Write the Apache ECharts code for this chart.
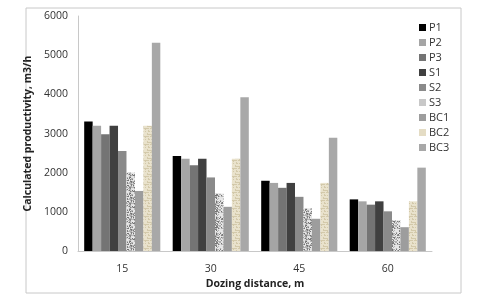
<!DOCTYPE html>
<html>
<head>
<meta charset="utf-8">
<script src="https://cdn.jsdelivr.net/npm/echarts@6/dist/echarts.min.js"></script>
<style>
  html, body { margin: 0; padding: 0; background: #fff; }
  #chart { width: 485px; height: 295px; }
</style>
</head>
<body>
<div id="chart"></div>
<script>
const categories = ["15", "30", "45", "60"]
const seriesNames = ["P1", "P2", "P3", "S1", "S2", "S3", "BC1", "BC2", "BC3"]
const P1 = [3310, 2430, 1795, 1320]
const P2 = [3200, 2360, 1740, 1270]
const P3 = [2985, 2190, 1615, 1185]
const S1 = [3200, 2360, 1740, 1270]
const S2 = [2555, 1880, 1385, 1015]
const S3 = [2005, 1465, 1090, 790]
const BC1 = [1535, 1130, 825, 610]
const BC2 = [3200, 2360, 1740, 1270]
const BC3 = [5320, 3925, 2895, 2130]
const yTicks = [0, 1000, 2000, 3000, 4000, 5000, 6000]

// small deterministic hash for texture fills
const hash = (x, y, s) => {
    let h = (x * 374761393 + y * 668265263 + s * 982451653) | 0
    h = (h ^ (h >>> 13)) * 1274126177
    h = h ^ (h >>> 16)
    return (h >>> 0) / 4294967295
}

const makeGranite = () => {
    const c = document.createElement("canvas")
    c.width = 16
    c.height = 16
    const ctx = c.getContext("2d")
    for (let y = 0; y < 16; y++) {
        for (let x = 0; x < 16; x++) {
            const r = hash(x, y, 1)
            const v = r < 0.25 ? 110 + r * 100 : r < 0.6 ? 165 + r * 30 : 200 + r * 35
            const g = Math.round(Math.min(v, 235))
            ctx.fillStyle = `rgb(${g},${g},${g})`
            ctx.fillRect(x, y, 1, 1)
        }
    }
    return c
}

const makeCanvas = () => {
    const c = document.createElement("canvas")
    c.width = 8
    c.height = 8
    const ctx = c.getContext("2d")
    ctx.fillStyle = "#e9e2cc"
    ctx.fillRect(0, 0, 8, 8)
    for (let y = 0; y < 8; y++) {
        for (let x = 0; x < 8; x++) {
            if ((y % 3 === 0 && hash(x, y, 2) < 0.6) || hash(x, y, 3) < 0.12) {
                ctx.fillStyle = "#d3c9aa"
                ctx.fillRect(x, y, 1, 1)
            }
        }
    }
    return c
}

const seriesData = [P1, P2, P3, S1, S2, S3, BC1, BC2, BC3]
const colors = [
    "#000000",
    "#a5a5a5",
    "#747474",
    "#404040",
    "#8a8a8a",
    { image: makeGranite(), repeat: "repeat" },
    "#9d9d9d",
    { image: makeCanvas(), repeat: "repeat" },
    "#a8a8a8",
]
const legendColors = ["#000", "#a5a5a5", "#747474", "#404040", "#8a8a8a", "#c8c8c8", "#9d9d9d", "#e4dcc4", "#a8a8a8"]

const chart = echarts.init(document.getElementById("chart"))

const font = "'Open Sans', sans-serif"

chart.setOption({
    animation: false,
    textStyle: { fontFamily: font },
    grid: { left: 78, right: 53, top: 16, bottom: 37 },
    graphic: [
        {
            type: "rect",
            shape: { x: 26, y: 8, width: 435, height: 285 },
            style: { fill: "none", stroke: "#c8c8c8", lineWidth: 1 },
            silent: true,
        },
    ],
    legend: {
        orient: "vertical",
        left: 414,
        top: 17,
        itemWidth: 7,
        itemHeight: 7,
        itemGap: 4,
        icon: "rect",
        textStyle: { fontSize: 11, color: "#333", padding: [0, 0, 0, -2] },
        data: seriesNames.map((n, i) => ({
            name: n,
            itemStyle: { color: legendColors[i] },
        })),
    },
    xAxis: {
        type: "category",
        data: categories,
        name: "Dozing distance, m",
        nameLocation: "middle",
        nameGap: 22,
        nameTextStyle: { fontWeight: "bold", fontSize: 10.5, color: "#222" },
        axisLine: { lineStyle: { color: "#c8c8c8" } },
        axisTick: { show: false },
        axisLabel: { fontSize: 10.5, color: "#333", margin: 12 },
    },
    yAxis: {
        type: "value",
        min: yTicks[0],
        max: yTicks[yTicks.length - 1],
        interval: 1000,
        name: "Calculated productivity, m3/h",
        nameLocation: "middle",
        nameGap: 41,
        nameTextStyle: { fontWeight: "bold", fontSize: 10.5, color: "#222" },
        axisLine: { show: true, lineStyle: { color: "#c8c8c8" } },
        axisTick: { show: false },
        splitLine: { show: false },
        axisLabel: {
            fontSize: 10.5,
            color: "#333",
            margin: 10,
            formatter: (v) => String(v),
        },
    },
    series: seriesNames.map((n, i) => ({
        name: n,
        type: "bar",
        data: seriesData[i],
        barGap: "0%",
        barCategoryGap: "14%",
        itemStyle: { color: colors[i] },
    })),
})
</script>
</body>
</html>
